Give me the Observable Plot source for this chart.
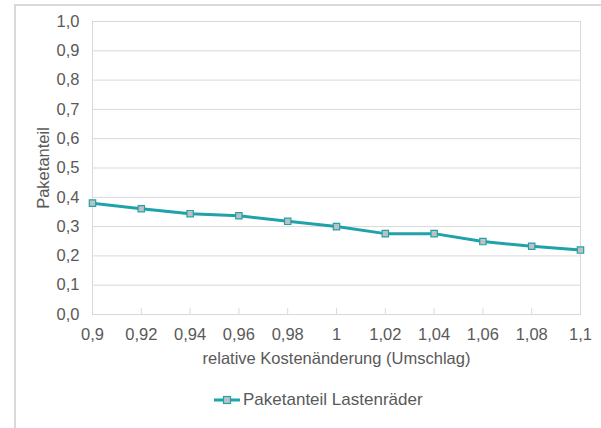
<!DOCTYPE html>
<html>
<head>
<meta charset="utf-8">
<script src="https://cdn.jsdelivr.net/npm/d3@7"></script>
<script src="https://cdn.jsdelivr.net/npm/@observablehq/plot@0.6"></script>
<style>
  html, body { margin: 0; padding: 0; background: #fff; }
  body { width: 601px; height: 428px; position: relative; overflow: hidden; font-family: "Liberation Sans", Arial, sans-serif; }
  #border { position: absolute; left: 14px; top: 4px; width: 620px; height: 460px; border: 2px solid #d9d9d9; box-sizing: border-box; }
  #chart { position: absolute; left: 0; top: 0; }
  #legend { position: absolute; left: 214px; top: 389px; height: 22px; display: flex; align-items: center; color: #595959; font-size: 17px; }
  #legend svg { margin-right: 1px; }
</style>
</head>
<body>
<div id="border"></div>
<div id="chart"></div>
<div id="legend"></div>
<script>
const xValues = [0.9, 0.92, 0.94, 0.96, 0.98, 1.0, 1.02, 1.04, 1.06, 1.08, 1.1];
const shareValues = [0.380, 0.361, 0.344, 0.337, 0.318, 0.300, 0.276, 0.276, 0.249, 0.233, 0.220];
const xTicks = [0.9, 0.92, 0.94, 0.96, 0.98, 1.0, 1.02, 1.04, 1.06, 1.08, 1.1];
const yTicks = [0, 0.1, 0.2, 0.3, 0.4, 0.5, 0.6, 0.7, 0.8, 0.9, 1.0];
const seriesName = "Paketanteil Lastenräder";
const xLabel = "relative Kostenänderung (Umschlag)";
const yLabel = "Paketanteil";

const data = xValues.map((x, i) => ({x, y: shareValues[i]}));
const lineColor = "#1fa2a8";
const markerFill = "#c0c0c0";
const textColor = "#595959";
const gridColor = "#d9d9d9";
const fs = 16.5;

const fmtX = d => String(+d.toFixed(2)).replace(".", ",");
const fmtY = d => d.toFixed(1).replace(".", ",");

const plot = Plot.plot({
  width: 601,
  height: 382,
  marginTop: 21,
  marginBottom: 68,
  marginLeft: 92,
  marginRight: 21,
  style: {fontFamily: '"Liberation Sans", Arial, sans-serif', fontSize: fs + "px", color: textColor, background: "transparent"},
  x: {domain: [0.9, 1.1]},
  y: {domain: [0, 1]},
  marks: [
    Plot.gridY(yTicks, {stroke: gridColor, strokeOpacity: 1, strokeWidth: 1}),
    Plot.frame({stroke: gridColor, strokeWidth: 1}),
    Plot.ruleX(xTicks, {x: d => d, y1: 0, y2: 0.02, stroke: gridColor}),
    Plot.axisX(xTicks, {tickSize: 0, tickPadding: 14, tickFormat: fmtX, label: null, fill: textColor, fontSize: fs}),
    Plot.axisY(yTicks, {tickSize: 0, tickPadding: 13, tickFormat: fmtY, label: null, fill: textColor, fontSize: fs}),
    Plot.text([xLabel], {text: d => d, frameAnchor: "bottom", dy: 49, fill: textColor, fontSize: fs}),
    Plot.text([yLabel], {text: d => d, frameAnchor: "left", textAnchor: "middle", rotate: -90, dx: -49, fill: textColor, fontSize: fs}),
    Plot.line(data, {x: "x", y: "y", stroke: lineColor, strokeWidth: 3}),
    Plot.dot(data, {x: "x", y: "y", symbol: "square", r: 3.6, fill: markerFill, stroke: lineColor, strokeWidth: 1.2})
  ]
});
document.getElementById("chart").appendChild(plot);

// legend
const leg = document.getElementById("legend");
const sw = d3.create("svg").attr("width", 28).attr("height", 12);
sw.append("line").attr("x1", 0).attr("x2", 26).attr("y1", 6).attr("y2", 6).attr("stroke", lineColor).attr("stroke-width", 3);
sw.append("rect").attr("x", 9.5).attr("y", 2.5).attr("width", 7).attr("height", 7).attr("fill", markerFill).attr("stroke", lineColor).attr("stroke-width", 1.2);
leg.appendChild(sw.node());
const span = document.createElement("span");
span.textContent = seriesName;
leg.appendChild(span);
</script>
</body>
</html>
